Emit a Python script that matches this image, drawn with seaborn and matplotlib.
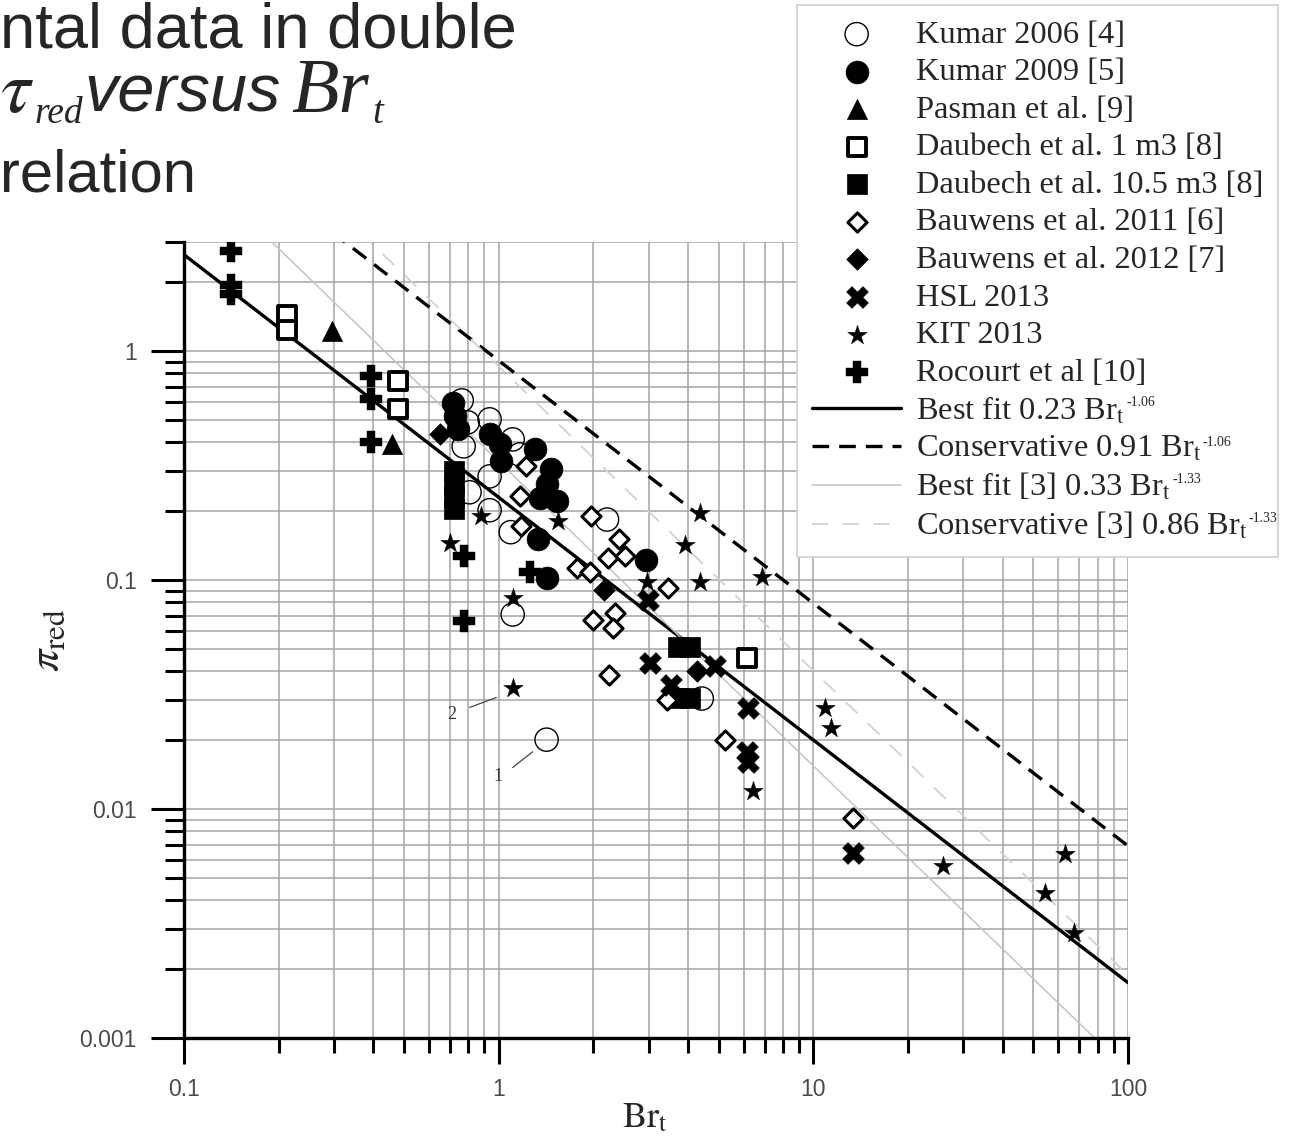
import numpy as np
import pandas as pd
import matplotlib
matplotlib.use("Agg")
import matplotlib.pyplot as plt
import seaborn as sns
from matplotlib.ticker import LogLocator, FixedLocator, FixedFormatter, NullFormatter

# ---------------- data ----------------
kumar2006_x = [0.763, 0.797, 0.936, 0.774, 1.108, 1.166, 0.936, 0.808, 0.936, 1.092, 2.21, 1.108, 1.42, 4.42]
kumar2006_y = [0.61, 0.489, 0.504, 0.384, 0.412, 0.354, 0.284, 0.242, 0.202, 0.162, 0.184, 0.0708, 0.0201, 0.0304]

kumar2009_x = [0.715, 0.725, 0.742, 0.936, 1.007, 1.02, 1.30, 1.47, 1.42, 1.35, 1.53, 1.33, 1.42, 2.94]
kumar2009_y = [0.597, 0.521, 0.456, 0.434, 0.392, 0.331, 0.373, 0.305, 0.262, 0.229, 0.221, 0.151, 0.102, 0.123]

pasman_x = [0.296, 0.459]
pasman_y = [1.23, 0.392]

daubech1_x = [0.213, 0.213, 0.478, 0.478, 6.14]
daubech1_y = [1.44, 1.24, 0.741, 0.558, 0.0455]

daubech10_x = [0.719, 0.719, 0.719, 0.719, 3.71, 4.05, 3.71, 4.05]
daubech10_y = [0.299, 0.262, 0.23, 0.204, 0.0508, 0.0508, 0.0307, 0.0307]

bauwens2011_x = [1.225, 1.172, 1.181, 1.97, 2.41, 2.23, 2.52, 1.77, 1.95, 3.46, 2.0, 2.34, 2.31, 2.25, 5.24, 3.42, 13.4]
bauwens2011_y = [0.315, 0.233, 0.173, 0.19, 0.151, 0.125, 0.127, 0.113, 0.108, 0.0926, 0.0673, 0.072, 0.062, 0.0387, 0.0201, 0.0301, 0.00914]

bauwens2012_x = [0.649, 2.16, 4.26]
bauwens2012_y = [0.434, 0.091, 0.040]

hsl_x = [2.99, 3.02, 4.87, 3.54, 6.21, 6.14, 6.21, 13.4]
hsl_y = [0.0823, 0.0435, 0.042, 0.035, 0.0277, 0.0178, 0.0161, 0.00643]

kit_x = [0.698, 0.881, 1.11, 1.11, 1.54, 4.36, 3.91, 2.95, 4.36, 6.85, 10.9, 11.4, 6.45, 25.9, 54.6, 63.2, 67.2]
kit_y = [0.146, 0.19, 0.0838, 0.0338, 0.181, 0.196, 0.143, 0.0977, 0.0977, 0.103, 0.0277, 0.0226, 0.012, 0.00562, 0.0043, 0.00638, 0.00287]

rocourt_x = [0.1414, 0.1414, 0.1414, 0.394, 0.394, 0.394, 0.774, 0.774, 1.26]
rocourt_y = [2.74, 1.94, 1.776, 0.777, 0.617, 0.40, 0.128, 0.066, 0.109]

series_labels = ["Kumar 2006 [4]", "Kumar 2009 [5]", "Pasman et al. [9]", "Daubech et al. 1 m3 [8]",
                 "Daubech et al. 10.5 m3 [8]", "Bauwens et al. 2011 [6]", "Bauwens et al. 2012 [7]",
                 "HSL 2013", "KIT 2013", "Rocourt et al [10]"]

# power-law correlations  pi_red = a * Br_t ** b
fit_labels = [r"Best fit 0.23 Br$_\mathrm{t}$",
              r"Conservative 0.91 Br$_\mathrm{t}$",
              r"Best fit [3] 0.33 Br$_\mathrm{t}$",
              r"Conservative [3] 0.86 Br$_\mathrm{t}$"]
fit_exponent_labels = ["-1.06", "-1.06", "-1.33", "-1.33"]
fit_a = [0.23, 0.91, 0.33, 0.86]
fit_b = [-1.06, -1.06, -1.33, -1.33]
fit_br = [0.1, 100.0]

x_ticks = [0.1, 1, 10, 100]
x_tick_labels = ["0.1", "1", "10", "100"]
y_ticks = [0.001, 0.01, 0.1, 1]
y_tick_labels = ["0.001", "0.01", "0.1", "1"]

note_labels = ["2", "1"]
note_text_x = [0.707, 0.995]
note_text_y = [0.0259, 0.0139]
note_line_x0 = [0.809, 1.108]
note_line_y0 = [0.0278, 0.0152]
note_line_x1 = [0.983, 1.283]
note_line_y1 = [0.0307, 0.0178]

# ---------------- style ----------------
sns.set_style("white")
plt.rcParams["font.family"] = ["Liberation Sans", "DejaVu Sans"]
plt.rcParams["mathtext.fontset"] = "stix"

W, H = 1289, 1140
fig = plt.figure(figsize=(W / 100, H / 100), dpi=100)
ax = fig.add_axes([184/W, 1-1038/H, (1128-184)/W, (1038-242)/H])
ax.set_xscale("log")
ax.set_yscale("log")

fit_styles = [dict(color="black", lw=2.4, ls="-"),
              dict(color="black", lw=2.4, ls=(0, (5, 3))),
              dict(color="#c4c4c4", lw=1.1, ls="-"),
              dict(color="#d2d2d2", lw=1.3, ls=(0, (9, 8)))]

marker_specs = [
    dict(marker="o", s=280, facecolor="none", edgecolor="black", linewidth=1.0),
    dict(marker="o", s=270, color="black", edgecolor="black", linewidth=0.5),
    dict(marker="^", s=210, color="black", edgecolor="black", linewidth=0.5),
    dict(marker="s", s=170, facecolor="white", edgecolor="black", linewidth=2.8),
    dict(marker="s", s=200, color="black", edgecolor="black", linewidth=0.5),
    dict(marker="D", s=95, facecolor="white", edgecolor="black", linewidth=2.2),
    dict(marker="D", s=120, color="black", edgecolor="black", linewidth=0.5),
    dict(marker="X", s=250, color="black", edgecolor="black", linewidth=0.3),
    dict(marker="*", s=220, color="black", edgecolor="black", linewidth=0.3),
    dict(marker="P", s=250, color="black", edgecolor="black", linewidth=0.3),
]
series_x = [kumar2006_x, kumar2009_x, pasman_x, daubech1_x, daubech10_x,
            bauwens2011_x, bauwens2012_x, hsl_x, kit_x, rocourt_x]
series_y = [kumar2006_y, kumar2009_y, pasman_y, daubech1_y, daubech10_y,
            bauwens2011_y, bauwens2012_y, hsl_y, kit_y, rocourt_y]

for xs, ys, lab, spec in zip(series_x, series_y, series_labels, marker_specs):
    df = pd.DataFrame({"Br": xs, "pi": ys})
    sns.scatterplot(data=df, x="Br", y="pi", ax=ax, label=lab, zorder=4, **spec)

for lab, a, b, st in zip(fit_labels, fit_a, fit_b, fit_styles):
    br = np.array(fit_br)
    df = pd.DataFrame({"Br": br, "pi": a * br ** b})
    sns.lineplot(data=df, x="Br", y="pi", ax=ax, label=lab, zorder=3, **st)

for t, tx, ty, x0, y0, x1, y1 in zip(note_labels, note_text_x, note_text_y,
                                     note_line_x0, note_line_y0, note_line_x1, note_line_y1):
    ax.text(tx, ty, t, fontsize=13, family="Liberation Serif", ha="center", va="center", color="#333333")
    ax.plot([x0, x1], [y0, y1], color="#444444", lw=0.9, zorder=3)

ax.set_xlim(0.1, 100)
ax.set_ylim(0.001, 3)

ax.xaxis.set_major_locator(FixedLocator(x_ticks))
ax.xaxis.set_major_formatter(FixedFormatter(x_tick_labels))
ax.yaxis.set_major_locator(FixedLocator(y_ticks))
ax.yaxis.set_major_formatter(FixedFormatter(y_tick_labels))
ax.xaxis.set_minor_locator(LogLocator(base=10, subs=np.arange(2, 10)))
ax.yaxis.set_minor_locator(LogLocator(base=10, subs=np.arange(2, 10)))
ax.xaxis.set_minor_formatter(NullFormatter())
ax.yaxis.set_minor_formatter(NullFormatter())

ax.grid(True, which="both", color="#a4a4a4", lw=1.1, zorder=0)
ax.set_axisbelow(True)

for sp in ["top", "right"]:
    ax.spines[sp].set_visible(False)
for sp in ["left", "bottom"]:
    ax.spines[sp].set_linewidth(2.4)
    ax.spines[sp].set_color("black")
    ax.spines[sp].set_zorder(5)

ax.tick_params(which="both", bottom=True, left=True, top=False, right=False)
ax.tick_params(axis="x", which="major", direction="out", length=19, width=2.2, pad=10,
               labelsize=16.5, labelcolor="#4a4a4a", color="black")
ax.tick_params(axis="x", which="minor", direction="out", length=11, width=2.2, color="black")
ax.tick_params(axis="y", which="major", direction="out", length=24, width=2.2, pad=10,
               labelsize=16.5, labelcolor="#4a4a4a", color="black")
ax.tick_params(axis="y", which="minor", direction="out", length=14, width=2.2, color="black")

ax.set_xlabel(r"$\mathrm{Br}_\mathrm{t}$", fontsize=26)
ax.xaxis.set_label_coords((645 - 184) / 944, (1038 - 1100) / 796)
ax.set_ylabel(r"$\pi_\mathrm{red}$", fontsize=32, labelpad=8)

handles, labels = ax.get_legend_handles_labels()
if ax.get_legend() is not None:
    ax.get_legend().remove()
leg = fig.legend(handles, labels, loc="upper left", bbox_to_anchor=(797/W, 1 - 5/H),
                 bbox_transform=fig.transFigure, borderaxespad=0.0,
                 prop={"family": "Liberation Serif", "size": 23.4},
                 frameon=True, fancybox=False, framealpha=1.0, edgecolor="#cfcfcf",
                 handlelength=2.75, handletextpad=0.45, labelspacing=0.24, borderpad=0.46,
                 scatterpoints=1, markerscale=1.0)
leg.get_frame().set_linewidth(1.2)

# small exponents of the correlation labels, placed right after "Br_t"
fig.canvas.draw()
renderer = fig.canvas.get_renderer()
leg_texts = leg.get_texts()
n_series = len(series_labels)
for i, expo in enumerate(fit_exponent_labels):
    bb = leg_texts[n_series + i].get_window_extent(renderer)
    fig.text((bb.x1 + 1) / W, (bb.y1 - 1) / H, expo, fontsize=10,
             family="Liberation Serif", va="top", ha="left", zorder=10)

# slide title text (cut at the left edge of the screenshot)
fig.text(0.0, 1 - 47/H, "ntal data in double", fontsize=45.5, va="baseline", ha="left",
         family="Liberation Sans")
fig.text(0.0, 1 - 112/H, r"$\tau$", fontsize=54, va="baseline", ha="left")
fig.text(34/W, 1 - 123/H, "red", fontsize=27, va="baseline", ha="left",
         family="Liberation Serif", style="italic")
fig.text(84/W, 1 - 112/H, "versus", fontsize=48, va="baseline", ha="left",
         family="Liberation Sans", style="italic")
fig.text(291/W, 1 - 112/H, "Br", fontsize=56, va="baseline", ha="left",
         family="Liberation Serif", style="italic")
fig.text(372/W, 1 - 123/H, "t", fontsize=28, va="baseline", ha="left",
         family="Liberation Serif", style="italic")
fig.text(0.0, 1 - 192/H, "relation", fontsize=43, va="baseline", ha="left",
         family="Liberation Sans")

fig.savefig("out.png", dpi=100)
